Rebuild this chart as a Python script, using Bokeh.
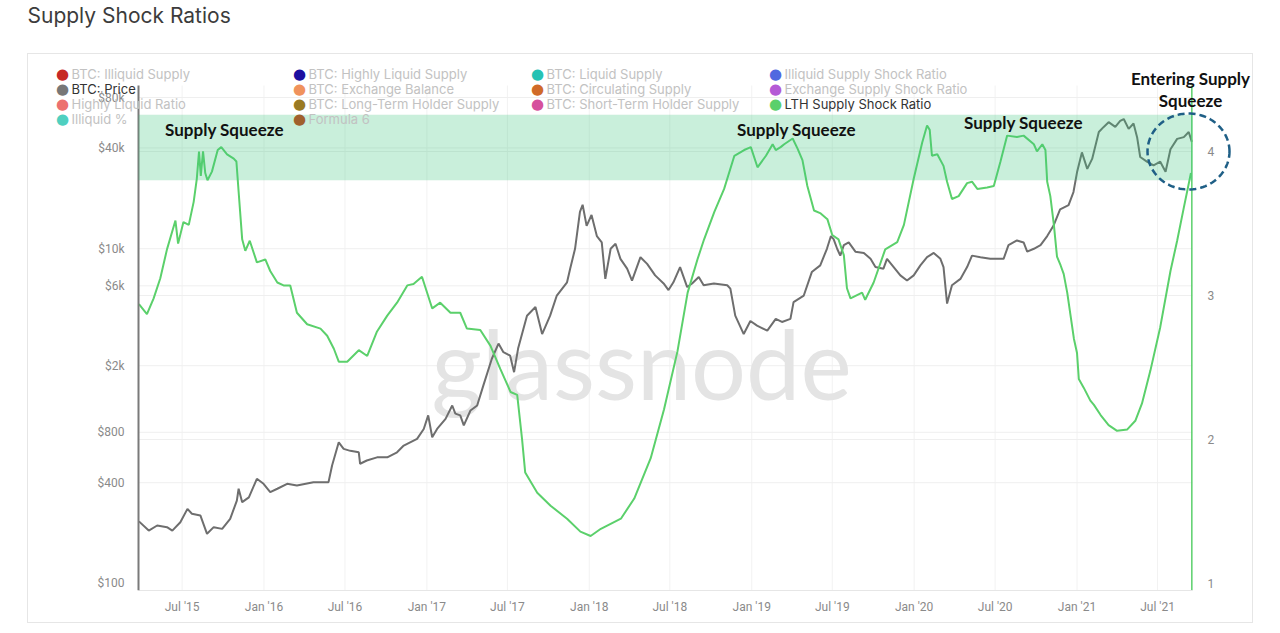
import numpy as np
import pandas as pd
from bokeh.plotting import figure
from bokeh.models import (Range1d, LinearAxis, LinearScale, FixedTicker, MonthsTicker,
                          DatetimeTickFormatter, BoxAnnotation, Label, PolyAnnotation, Title)
from bokeh.embed import file_html
from bokeh.resources import INLINE

# ---------------- data ----------------
ratio_dates = [
    "2015-03-26", "2015-04-13", "2015-04-28", "2015-05-13", "2015-05-28", "2015-06-16",
    "2015-06-22", "2015-07-04", "2015-07-16", "2015-07-27", "2015-08-03", "2015-08-08",
    "2015-08-12", "2015-08-17", "2015-08-22", "2015-08-27", "2015-09-06", "2015-09-19",
    "2015-09-27", "2015-10-10", "2015-10-25", "2015-10-31", "2015-11-05", "2015-11-13",
    "2015-11-20", "2015-11-30", "2015-12-16", "2016-01-04", "2016-01-15", "2016-01-31",
    "2016-02-14", "2016-02-29", "2016-03-15", "2016-04-07", "2016-05-07", "2016-05-22",
    "2016-06-06", "2016-06-17", "2016-07-06", "2016-08-01", "2016-08-20", "2016-09-11",
    "2016-10-04", "2016-10-26", "2016-11-18", "2016-12-02", "2016-12-21", "2017-01-13",
    "2017-01-31", "2017-02-23", "2017-03-17", "2017-04-01", "2017-05-01", "2017-05-24",
    "2017-06-15", "2017-07-08", "2017-07-23", "2017-08-03", "2017-08-10", "2017-09-06",
    "2017-10-06", "2017-11-12", "2017-12-12", "2018-01-04", "2018-01-27", "2018-03-13",
    "2018-04-12", "2018-05-19", "2018-06-18", "2018-07-18", "2018-08-10", "2018-09-01",
    "2018-09-16", "2018-10-09", "2018-10-31", "2018-11-23", "2018-12-15", "2018-12-30",
    "2019-01-14", "2019-02-02", "2019-02-17", "2019-02-24", "2019-03-07", "2019-03-15",
    "2019-04-03", "2019-04-14", "2019-04-25", "2019-05-06", "2019-05-21", "2019-06-05",
    "2019-06-20", "2019-07-01", "2019-07-15", "2019-07-27", "2019-08-03", "2019-08-11",
    "2019-09-06", "2019-09-13", "2019-10-02", "2019-10-28", "2019-11-24", "2019-12-09",
    "2019-12-31", "2020-01-19", "2020-01-30", "2020-02-05", "2020-02-10", "2020-02-22",
    "2020-03-07", "2020-03-15", "2020-03-26", "2020-04-10", "2020-04-29", "2020-05-10",
    "2020-05-22", "2020-06-13", "2020-06-28", "2020-07-13", "2020-07-28", "2020-08-19",
    "2020-09-03", "2020-09-26", "2020-10-03", "2020-10-15", "2020-10-22", "2020-10-26",
    "2020-11-02", "2020-11-10", "2020-11-17", "2020-11-25", "2020-12-02", "2020-12-10",
    "2020-12-17", "2020-12-25", "2021-01-01", "2021-01-05", "2021-01-16", "2021-01-31",
    "2021-02-08", "2021-02-23", "2021-03-13", "2021-04-01", "2021-04-24", "2021-05-12",
    "2021-05-27", "2021-06-15", "2021-07-07", "2021-07-30", "2021-08-14", "2021-08-29",
    "2021-09-14",
]
ratio_values = [
    2.94, 2.87, 2.98, 3.12, 3.32, 3.52,
    3.36, 3.51, 3.49, 3.65, 3.81, 4.00,
    3.83, 4.00, 3.85, 3.80, 3.86, 4.01,
    4.03, 3.98, 3.95, 3.93, 3.72, 3.39,
    3.31, 3.38, 3.23, 3.25, 3.17, 3.09,
    3.07, 3.07, 2.88, 2.80, 2.77, 2.72,
    2.63, 2.54, 2.54, 2.62, 2.58, 2.75,
    2.86, 2.95, 3.07, 3.08, 3.13, 2.91,
    2.95, 2.88, 2.88, 2.77, 2.76, 2.65,
    2.49, 2.33, 2.31, 2.00, 1.77, 1.63,
    1.54, 1.45, 1.36, 1.33, 1.38, 1.45,
    1.59, 1.87, 2.21, 2.61, 3.02, 3.25,
    3.39, 3.58, 3.74, 3.97, 4.01, 4.03,
    3.89, 3.97, 4.05, 4.01, 4.03, 4.05,
    4.09, 4.02, 3.94, 3.76, 3.59, 3.57,
    3.53, 3.42, 3.39, 3.28, 3.05, 2.98,
    3.02, 2.97, 3.09, 3.32, 3.37, 3.49,
    3.81, 4.06, 4.18, 4.15, 3.97, 3.98,
    3.90, 3.79, 3.67, 3.69, 3.78, 3.79,
    3.74, 3.75, 3.76, 3.93, 4.11, 4.10,
    4.11, 4.05, 4.00, 4.05, 4.01, 3.79,
    3.69, 3.49, 3.27, 3.21, 3.15, 3.02,
    2.87, 2.70, 2.60, 2.42, 2.36, 2.27,
    2.24, 2.17, 2.10, 2.06, 2.07, 2.13,
    2.25, 2.48, 2.78, 3.17, 3.38, 3.61,
    3.85,
]

price_dates = [
    "2015-03-26", "2015-04-17", "2015-05-06", "2015-05-28", "2015-06-09", "2015-06-27",
    "2015-07-13", "2015-07-23", "2015-08-11", "2015-08-26", "2015-09-10", "2015-09-29",
    "2015-10-17", "2015-11-01", "2015-11-05", "2015-11-13", "2015-11-28", "2015-12-16",
    "2015-12-31", "2016-01-15", "2016-01-31", "2016-02-22", "2016-03-15", "2016-04-21",
    "2016-05-25", "2016-06-02", "2016-06-17", "2016-06-28", "2016-07-13", "2016-08-01",
    "2016-08-04", "2016-08-19", "2016-09-11", "2016-10-04", "2016-10-26", "2016-11-10",
    "2016-12-10", "2016-12-25", "2017-01-04", "2017-01-13", "2017-01-24", "2017-02-12",
    "2017-02-27", "2017-03-06", "2017-03-17", "2017-03-25", "2017-04-09", "2017-04-24",
    "2017-05-08", "2017-05-27", "2017-06-11", "2017-06-22", "2017-07-07", "2017-07-16",
    "2017-07-25", "2017-08-14", "2017-09-02", "2017-09-17", "2017-10-05", "2017-10-20",
    "2017-11-12", "2017-11-19", "2017-11-30", "2017-12-11", "2017-12-17", "2017-12-26",
    "2018-01-06", "2018-01-18", "2018-01-29", "2018-02-06", "2018-02-18", "2018-03-01",
    "2018-03-12", "2018-03-27", "2018-04-07", "2018-04-26", "2018-05-11", "2018-05-29",
    "2018-06-17", "2018-06-28", "2018-07-09", "2018-07-24", "2018-08-09", "2018-08-20",
    "2018-09-04", "2018-09-15", "2018-10-08", "2018-11-07", "2018-11-14", "2018-11-25",
    "2018-12-14", "2018-12-29", "2019-01-13", "2019-02-05", "2019-02-24", "2019-03-10",
    "2019-03-29", "2019-04-05", "2019-04-28", "2019-05-16", "2019-06-04", "2019-06-19",
    "2019-06-28", "2019-07-04", "2019-07-12", "2019-07-19", "2019-07-27", "2019-08-07",
    "2019-08-22", "2019-09-10", "2019-09-25", "2019-10-06", "2019-10-24", "2019-11-01",
    "2019-11-16", "2019-12-01", "2019-12-16", "2019-12-31", "2020-01-15", "2020-01-30",
    "2020-02-14", "2020-02-29", "2020-03-07", "2020-03-15", "2020-03-26", "2020-04-14",
    "2020-04-29", "2020-05-10", "2020-05-29", "2020-06-20", "2020-07-20", "2020-07-31",
    "2020-08-19", "2020-09-03", "2020-09-11", "2020-09-26", "2020-10-11", "2020-10-26",
    "2020-11-09", "2020-11-24", "2020-12-13", "2020-12-24", "2021-01-01", "2021-01-12",
    "2021-01-24", "2021-02-04", "2021-02-19", "2021-03-02", "2021-03-13", "2021-03-28",
    "2021-04-08", "2021-04-16", "2021-04-27", "2021-05-08", "2021-05-16", "2021-05-23",
    "2021-06-07", "2021-06-22", "2021-07-07", "2021-07-19", "2021-07-30", "2021-08-14",
    "2021-08-29", "2021-09-09", "2021-09-16",
]
price_values = [
    235, 207, 222, 217, 207, 232,
    279, 261, 255, 198, 217, 212,
    243, 313, 368, 306, 327, 422,
    394, 351, 368, 394, 385, 403,
    403, 507, 697, 637, 620, 608,
    519, 543, 567, 567, 608, 667,
    731, 838, 1010, 748, 838, 963,
    1157, 1035, 1010, 880, 1080, 1157,
    1525, 2200, 2710, 2410, 2300, 1830,
    2530, 3980, 4480, 3090, 3980, 5250,
    6300, 7600, 9990, 16600, 18300, 13700,
    15900, 11900, 10900, 6600, 9990, 10700,
    8700, 7600, 6450, 8900, 8120, 6930,
    6200, 5660, 6300, 7770, 5900, 6200,
    6780, 6050, 6200, 6050, 5770, 3980,
    3090, 3700, 3470, 3240, 3810, 3650,
    3810, 4800, 5250, 7250, 7950, 9990,
    11900, 11400, 9990, 9090, 10500, 10900,
    9600, 9430, 8700, 7770, 7600, 8700,
    7770, 6930, 6450, 6930, 7950, 8900,
    9430, 8700, 7770, 4700, 6050, 6600,
    7770, 9090, 8900, 8700, 8700, 10500,
    11200, 10900, 9600, 9990, 10500, 11900,
    13700, 17200, 18200, 21800, 28600, 37600,
    30000, 34400, 49800, 53400, 57000, 53400,
    58000, 59500, 52000, 56000, 46400, 35300,
    33100, 31500, 33100, 28800, 39300, 45300,
    46400, 49800, 43500,
]

price_ticks = [100, 400, 800, 2000, 6000, 10000, 40000, 80000]
price_tick_labels = ["$100", "$400", "$800", "$2k", "$6k", "$10k", "$40k", "$80k"]
ratio_ticks = [1, 2, 3, 4]
squeeze_low, squeeze_high = 3.80, 4.255
last_date = "2021-09-16"

legend_names = [
    "BTC: Illiquid Supply", "BTC: Highly Liquid Supply", "BTC: Liquid Supply", "Illiquid Supply Shock Ratio",
    "BTC: Price", "BTC: Exchange Balance", "BTC: Circulating Supply", "Exchange Supply Shock Ratio",
    "Highly Liquid Ratio", "BTC: Long-Term Holder Supply", "BTC: Short-Term Holder Supply", "LTH Supply Shock Ratio",
    "Illiquid %", "Formula 6",
]
legend_colors = [
    "#c62828", "#1c0fa0", "#26c2b3", "#5068e0",
    "#777777", "#f0925c", "#d06a28", "#b45ad6",
    "#ec7070", "#9a7a22", "#d6509c", "#5bd06b",
    "#4fd0c0", "#a0602c",
]
legend_active = [False, False, False, False,
                 True, False, False, False,
                 False, False, False, True,
                 False, False]

annotations = ["Supply Squeeze", "Supply Squeeze", "Supply Squeeze", "Entering Supply", "Squeeze"]

# ---------------- layout constants (page pixels) ----------------
GREEN = "#5bd06b"
GRAY = "#6e6e6e"
PL, PR, PT, PB = 138, 1192, 85, 590      # visible plot area
W, H = 1280, 632
FL, FT = 48, 40                          # frame left / top (min borders)
FR, FB = W - 26, H - 42                  # frame right / bottom

t0 = pd.Timestamp("2015-03-25")
t1 = pd.Timestamp("2021-09-17 12:00")
t0_ms = t0.value / 1e6
t1_ms = t1.value / 1e6
price_lo, price_hi = 90.8, 94400.0
ratio_lo, ratio_hi = 0.9514, 4.458

ms_pp = (t1_ms - t0_ms) / (PR - PL)
x_start = t0_ms - (PL - FL) * ms_pp
x_end = t1_ms + (FR - PR) * ms_pp
dec_pp = (np.log10(price_hi) - np.log10(price_lo)) / (PB - PT)
y_end = 10 ** (np.log10(price_hi) + (PT - FT) * dec_pp)
r_pp = (ratio_hi - ratio_lo) / (PB - PT)
r_end = ratio_hi + (PT - FT) * r_pp


def sx(px):
    return px - FL


def sy(py):
    return FB - py


rd = pd.to_datetime(ratio_dates)
pdts = pd.to_datetime(price_dates)

p = figure(width=W, height=H, x_axis_type="datetime", y_axis_type="log",
           x_range=Range1d(x_start, x_end), y_range=Range1d(price_lo, y_end),
           output_backend="svg", toolbar_location=None,
           min_border_left=FL, min_border_right=W - FR, min_border_top=FT,
           min_border_bottom=H - FB)
p.extra_y_ranges = {"ratio": Range1d(ratio_lo, r_end)}
p.extra_y_scales = {"ratio": LinearScale()}
p.outline_line_color = None
p.background_fill_color = "white"
p.border_fill_color = "white"
p.xgrid.visible = False
p.ygrid.visible = False

# title (a small spacer title sits between the real title and the frame)
p.add_layout(Title(text=" ", text_font_size="8px", standoff=0), "above")
p.add_layout(Title(text="Supply Shock Ratios", align="left", offset=27 - FL,
                   vertical_align="top", standoff=0, text_font="Inter",
                   text_font_size="21px", text_font_style="normal",
                   text_color="#3c3c3c"), "above")

# card border (CSS)
p.stylesheets = [":host::after { content: ''; position: absolute; left: 27px; top: 53px; "
                 "width: 1226px; height: 570px; border: 1px solid #e6e6e6; "
                 "box-sizing: border-box; pointer-events: none; z-index: 5; }"]

# left (price) axis
ya = p.yaxis[0]
ya.fixed_location = t0_ms
ya.bounds = (price_lo, price_hi)
ya.ticker = FixedTicker(ticks=price_ticks)
ya.major_label_overrides = {t: l for t, l in zip(price_ticks, price_tick_labels)}
ya.axis_line_color = "#7a7a7a"
ya.axis_line_width = 2
ya.major_tick_line_color = None
ya.minor_tick_line_color = None
ya.major_tick_out = 0
ya.major_label_standoff = 14
ya.major_label_text_color = "#8a8a8a"
ya.major_label_text_font = "Roboto"
ya.major_label_text_font_size = "12px"

# right (ratio) axis
ra = LinearAxis(y_range_name="ratio", ticker=FixedTicker(ticks=ratio_ticks),
                fixed_location=t1_ms, bounds=(ratio_lo, ratio_hi))
ra.axis_line_color = None
ra.major_tick_line_color = None
ra.minor_tick_line_color = None
ra.major_tick_out = 0
ra.major_label_standoff = 15
ra.major_label_text_color = "#8a8a8a"
ra.major_label_text_font = "Roboto"
ra.major_label_text_font_size = "12px"
p.add_layout(ra, "right")

# x axis
xa = p.xaxis[0]
xa.bounds = (t0_ms, t1_ms)
xa.ticker = MonthsTicker(months=[0, 6])
xa.formatter = DatetimeTickFormatter(months="%b '%y", years="%b '%y", days="%b '%y")
xa.axis_line_color = "#e6e6e6"
xa.major_tick_line_color = None
xa.minor_tick_line_color = None
xa.major_tick_out = 0
xa.major_label_standoff = 9
xa.major_label_text_color = "#8a8a8a"
xa.major_label_text_font = "Roboto"
xa.major_label_text_font_size = "12px"

# grid lines limited to the plot area
grid_dates = pd.date_range("2015-07-01", "2021-07-01", freq="6MS")
p.segment(x0=grid_dates, x1=grid_dates, y0=price_lo, y1=price_hi,
          line_color="#f2f2f2", line_width=1, level="underlay")
p.segment(x0=t0_ms, x1=t1_ms, y0=price_ticks[1:], y1=price_ticks[1:],
          line_color="#efefef", line_width=1, level="underlay")
p.segment(x0=t0_ms, x1=t1_ms, y0=ratio_ticks[1:], y1=ratio_ticks[1:],
          line_color="#efefef", line_width=1, level="underlay", y_range_name="ratio")

# watermark
p.add_layout(Label(x=sx(641), y=sy(362), x_units="screen", y_units="screen",
                   text="glassnode", text_align="center", text_baseline="alphabetic",
                   text_font="Lato", text_font_style="normal", text_font_size="97px",
                   text_color="#e4e4e4", level="underlay"))

# series
p.line(pdts, price_values, color=GRAY, line_width=2)
p.line(rd, ratio_values, color=GREEN, line_width=2, y_range_name="ratio")
p.segment(x0=[pd.Timestamp(last_date)], x1=[pd.Timestamp(last_date)],
          y0=ratio_lo, y1=ratio_hi, line_color=GREEN, line_width=1.5, y_range_name="ratio")

# supply squeeze band
p.add_layout(BoxAnnotation(left=t0_ms, right=t1_ms, bottom=squeeze_low, top=squeeze_high,
                           y_range_name="ratio", fill_color="#3cc47c", fill_alpha=0.28,
                           line_color=None))

# legend
col_x = [62, 299, 537, 775]
row_y = [73, 88, 103, 118]
for i, (name, color, active) in enumerate(zip(legend_names, legend_colors, legend_active)):
    cx, cy = col_x[i % 4], row_y[i // 4]
    p.add_layout(Label(x=sx(cx), y=sy(cy), x_units="screen", y_units="screen",
                       text="\u25CF", text_align="center", text_baseline="middle",
                       text_font="DejaVu Sans", text_font_size="15px", text_color=color))
    p.add_layout(Label(x=sx(cx + 9), y=sy(cy), x_units="screen", y_units="screen",
                       text=name, text_baseline="middle", text_font="Inter",
                       text_font_size="13px",
                       text_color="#333333" if active else "#c2c2c2"))

# annotations
ann_pos = [(224, 129), (796, 129), (1023, 122), (1190, 78), (1190, 100)]
for txt, (ax, ay) in zip(annotations, ann_pos):
    p.add_layout(Label(x=sx(ax), y=sy(ay), x_units="screen", y_units="screen",
                       text=txt, text_align="center", text_baseline="middle",
                       text_font="Lato", text_font_style="bold",
                       text_font_size="17px", text_color="#111111"))

# dashed circle
t = np.linspace(0, 2 * np.pi, 100)
p.add_layout(PolyAnnotation(xs=list(sx(1188) + 41 * np.cos(t)),
                            ys=list(sy(151) + 38 * np.sin(t)),
                            xs_units="screen", ys_units="screen",
                            fill_color=None, fill_alpha=0, line_color="#1f5f86",
                            line_alpha=1.0, line_width=2.5, line_dash="7 4"))

open("out.html", "w").write(file_html(p, INLINE))
